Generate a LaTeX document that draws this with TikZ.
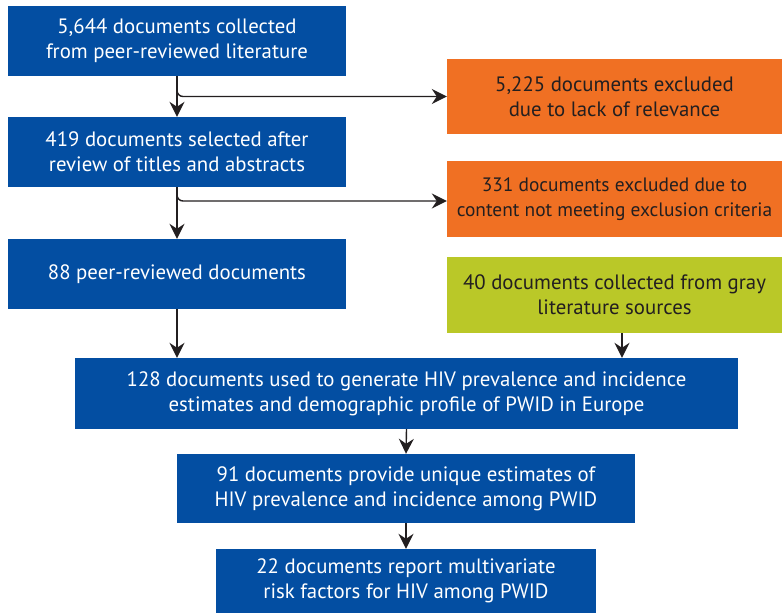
\documentclass[tikz,border=0pt]{standalone}
\usepackage{fontspec}
\setmainfont{PT Sans}
\usetikzlibrary{arrows.meta,calc}
\definecolor{bblue}{RGB}{3,78,162}
\definecolor{borange}{RGB}{240,112,35}
\definecolor{bgreen}{RGB}{186,200,40}
\definecolor{dtext}{RGB}{35,31,32}
\tikzset{
  box/.style={rectangle, inner sep=0pt, align=center, font=\fontsize{20.8}{25}\selectfont},
  bluebox/.style={box, fill=bblue, text=white},
  orangebox/.style={box, fill=borange, text=dtext},
  greenbox/.style={box, fill=bgreen, text=dtext},
  arr/.style={draw=dtext, line width=1.4pt, -{Stealth[length=15pt,width=15pt,inset=5pt]}},
}
\begin{document}
\begin{tikzpicture}[x=1pt,y=-1pt]
\useasboundingbox (0,0) rectangle (782,615);
\node[bluebox, minimum width=338pt, minimum height=70pt] (b1) at (177,41) {5,644 documents collected\\from peer-reviewed literature};
\node[orangebox, minimum width=335pt, minimum height=75pt] (o1) at (614.5,96.5) {5,225 documents excluded\\due to lack of relevance};
\node[bluebox, minimum width=338pt, minimum height=70pt] (b2) at (177,152) {419 documents selected after\\review of titles and abstracts};
\node[orangebox, minimum width=335pt, minimum height=76pt, font=\fontsize{19.4}{25}\selectfont] (o2) at (614.5,199) {331 documents excluded due to\\content not meeting exclusion criteria};
\node[bluebox, minimum width=338pt, minimum height=70pt] (b3) at (177,274) {88 peer-reviewed documents};
\node[greenbox, minimum width=335pt, minimum height=76pt] (g) at (614.5,295) {40 documents collected from gray\\literature sources};
\node[bluebox, minimum width=663pt, minimum height=71pt] (b4) at (406.5,393.5) {128 documents used to generate HIV prevalence and incidence\\estimates and demographic profile of PWID in Europe};
\node[bluebox, minimum width=458pt, minimum height=69pt] (b5) at (406,488.5) {91 documents provide unique estimates of\\HIV prevalence and incidence among PWID};
\node[bluebox, minimum width=380pt, minimum height=64pt] (b6) at (406,581) {22 documents report multivariate\\risk factors for HIV among PWID};

\draw[arr] (b1.south) -- (b2.north);
\draw[arr, rounded corners=6pt] (b1.south) -- (b1.south |- o1.west) -- (o1.west);
\draw[arr] (b2.south) -- (b3.north);
\draw[arr, rounded corners=6pt] (b2.south) -- ($(b2.south |- o2.west)+(0,2)$) -- ($(o2.west)+(0,2)$);
\draw[arr] (b3.south) -- (b3.south |- b4.north);
\draw[arr] ($(g.south)+(7.5,0)$) -- ($(g.south |- b4.north)+(7.5,0)$);
\draw[arr] (b4.south) -- (b5.north);
\draw[arr] (b5.south) -- (b6.north);
\end{tikzpicture}
\end{document}
